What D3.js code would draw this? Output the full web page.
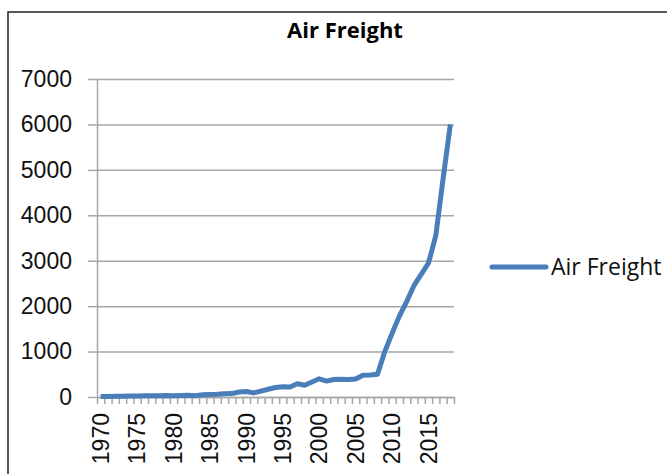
<!DOCTYPE html>
<html>
<head>
<meta charset="utf-8">
<script src="https://cdn.jsdelivr.net/npm/d3@7"></script>
<style>
  body { margin: 0; background: #fff; }
  svg { display: block; font-family: "Open Sans", sans-serif; }
  .axis path, .axis line { stroke: #a6a6a6; }
</style>
</head>
<body>
<svg id="chart" width="667" height="474"></svg>
<script>
"use strict"

// data
var years = d3.range(1970, 2019);
var freight = [
  10, 12, 15, 18, 20, 22, 25, 28, 30, 32,
  30, 35, 38, 30, 50, 55, 60, 70, 75, 110,
  120, 90, 130, 170, 210, 225, 220, 290, 260, 330,
  400, 350, 385, 390, 385, 395, 480, 485, 500, 1000,
  1400, 1780, 2100, 2450, 2700, 2950, 3550, 4800, 6000
];
var yTicks = [0, 1000, 2000, 3000, 4000, 5000, 6000, 7000];
var seriesName = "Air Freight";

var svg = d3.select("#chart");

var plot = { left: 97, right: 454, top: 79, bottom: 397 };

var x = d3.scaleBand()
    .domain(years)
    .range([plot.left, plot.right])
    .padding(0);

var xIdx = d3.scaleLinear()
    .domain([0, years.length])
    .range([plot.left, plot.right]);

var y = d3.scaleLinear()
    .domain([0, 7000])
    .range([plot.bottom, plot.top]);

// chart frame
svg.append("rect")
    .attr("x", 8)
    .attr("y", 12)
    .attr("width", 700)
    .attr("height", 500)
    .attr("fill", "none")
    .attr("stroke", "#222")
    .attr("stroke-width", 1.5);

// title
svg.append("text")
    .attr("x", 345)
    .attr("y", 38)
    .attr("text-anchor", "middle")
    .style("font-size", "22px")
    .style("font-weight", "bold")
    .text(seriesName);

// gridlines
svg.append("g")
    .attr("class", "axis grid")
    .attr("transform", "translate(" + plot.left + ",0)")
    .call(d3.axisLeft(y).tickValues(yTicks).tickSize(-(plot.right - plot.left)).tickFormat(""))
    .call(function(g) { g.select(".domain").remove() })
    .selectAll("line")
    .attr("stroke-width", 1.5);

// y axis
var yAxis = svg.append("g")
    .attr("class", "axis")
    .attr("transform", "translate(" + plot.left + ",0)")
    .call(d3.axisLeft(y).tickValues(yTicks).tickFormat(d3.format("d")).tickSize(9).tickSizeOuter(0).tickPadding(16));
yAxis.selectAll("line, path").attr("stroke-width", 1.5);
yAxis.selectAll("text")
    .attr("fill", "#111")
    .style("font-size", "23px");

// x minor ticks at category boundaries
svg.append("g")
    .attr("class", "axis")
    .attr("transform", "translate(0," + plot.bottom + ")")
    .call(d3.axisBottom(xIdx).tickValues(d3.range(years.length + 1)).tickSize(7).tickSizeOuter(0).tickFormat(""))
    .selectAll("line, path")
    .attr("stroke-width", 1.5);

// x labels
var xAxis = svg.append("g")
    .attr("class", "axis")
    .attr("transform", "translate(0," + plot.bottom + ")")
    .call(d3.axisBottom(x).tickSize(0).tickFormat(function(d) { return d % 5 === 0 ? d : "" }));
xAxis.select(".domain").remove();
xAxis.selectAll("text")
    .attr("transform", "rotate(-90)")
    .attr("x", -16)
    .attr("y", 0)
    .attr("dy", "0.36em")
    .attr("fill", "#111")
    .style("text-anchor", "end")
    .style("font-size", "23px");

// series
var line = d3.line()
    .x(function(d, i) { return x(years[i]) + x.bandwidth() / 2 })
    .y(function(d) { return y(d) });

svg.append("path")
    .datum(freight)
    .attr("fill", "none")
    .attr("stroke", "#4a7ebb")
    .attr("stroke-width", 5)
    .attr("stroke-linejoin", "round")
    .attr("d", line);

// legend
var legend = svg.append("g");
legend.append("line")
    .attr("x1", 492)
    .attr("x2", 546)
    .attr("y1", 267)
    .attr("y2", 267)
    .attr("stroke", "#4a7ebb")
    .attr("stroke-width", 5)
    .attr("stroke-linecap", "round");
legend.append("text")
    .attr("x", 551)
    .attr("y", 267)
    .attr("dy", "0.36em")
    .attr("fill", "#111")
    .style("font-size", "23px")
    .text(seriesName);
</script>
</body>
</html>
